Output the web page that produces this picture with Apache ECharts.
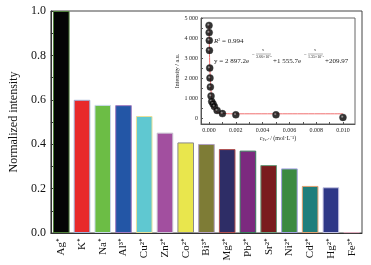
<!DOCTYPE html>
<html>
<head>
<meta charset="utf-8" />
<title>Normalized intensity</title>
<script src="https://cdn.jsdelivr.net/npm/echarts@6/dist/echarts.min.js"></script>
<style>
  body { margin: 0; background: #fff; }
  #main { width: 371px; height: 265px; }
</style>
</head>
<body>
<div id="main"></div>
<script type="text/javascript">
// ions and their normalized intensity
var ions = ['Ag⁺', 'K⁺', 'Na⁺', 'Al³⁺', 'Cu²⁺', 'Zn²⁺', 'Co²⁺', 'Bi³⁺', 'Mg²⁺', 'Pb²⁺', 'Sr²⁺', 'Ni²⁺', 'Cd²⁺', 'Hg²⁺', 'Fe³⁺'];
var intensity = [1.0, 0.600, 0.577, 0.576, 0.527, 0.452, 0.408, 0.401, 0.378, 0.371, 0.306, 0.291, 0.212, 0.206, 0.004];
var barColors = ['#050505', '#e8292b', '#6cbd45', '#2356a6', '#5fc8d1', '#a24f9f', '#e9e64d', '#7e7c36', '#2e2d66', '#7c2a7f', '#7a1c1e', '#3b8a42', '#1f7e7c', '#2d3787', '#f4d8e0'];
var barBorders = ['#4f7f3a', '#9fb2d8', '#c8d8e8', '#a07cc0', '#e8e09a', '#c8c0d0', '#8a8a8a', '#b0a0c0', '#b05050', '#3a7a5a', '#6a9a7a', '#a0a0e0', '#e0a070', '#c0c0e0', '#e0b0c0'];

// inset: Fe3+ concentration (mol/L) vs intensity (a.u.)
var conc = [0, 0.00001, 0.00002, 0.00003, 0.00005, 0.00007, 0.0001, 0.00015, 0.0002, 0.0003, 0.0004, 0.0006, 0.001, 0.002, 0.005, 0.010];
var counts = [4630, 4270, 3880, 3380, 2500, 2000, 1550, 1100, 830, 710, 580, 380, 220, 160, 160, 30];
// fitted curve
var fitX = [0, 0.00005, 0.0001, 0.00015, 0.0002, 0.0003, 0.0004, 0.0005, 0.0006, 0.0008, 0.001, 0.0015, 0.002, 0.005, 0.010];
var fitY = [4660, 2700, 1900, 1350, 1000, 640, 450, 350, 295, 245, 225, 212, 210, 210, 210];

var serif = 'Liberation Serif';
var myChart = echarts.init(document.getElementById('main'), null, { renderer: 'canvas' });

var option = {
    backgroundColor: '#fff',
    animation: false,
    textStyle: { fontFamily: serif, color: '#111' },
    grid: [
        { left: 45, right: 9, top: 11, bottom: 32, show: true, borderColor: '#444', borderWidth: 1 },
        { left: 201, right: 16, top: 18, bottom: 141, show: true, borderColor: '#666', borderWidth: 1, backgroundColor: '#fff' }
    ],
    xAxis: [
        {
            type: 'category', gridIndex: 0, data: ions,
            axisLine: { lineStyle: { color: '#333' } },
            axisTick: { inside: true, alignWithLabel: true, length: 3, lineStyle: { color: '#000' } },
            axisLabel: { rotate: 90, fontSize: 11, color: '#111', margin: 5, fontFamily: serif }
        },
        {
            type: 'value', gridIndex: 1, min: -0.0006, max: 0.0109,
            splitLine: { show: false },
            axisLine: { onZero: false, lineStyle: { color: '#555' } },
            axisTick: { inside: true, length: 2, customValues: [0, 0.001, 0.002, 0.003, 0.004, 0.005, 0.006, 0.007, 0.008, 0.009, 0.010], lineStyle: { color: '#555' } },
            axisLabel: {
                fontSize: 6, color: '#222', margin: 3, fontFamily: serif,
                customValues: [0, 0.002, 0.004, 0.006, 0.008, 0.010],
                formatter: function (v) { return v.toFixed(3); }
            },
            name: '{i|c}{s|Fe³⁺} / (mol·L⁻¹)', nameLocation: 'middle', nameGap: 11,
            nameTextStyle: {
                fontSize: 6, color: '#222', fontFamily: serif,
                rich: {
                    i: { fontSize: 6, fontStyle: 'italic', fontFamily: serif },
                    s: { fontSize: 4, verticalAlign: 'bottom', fontFamily: serif, padding: [3, 0, 0, 0] }
                }
            }
        }
    ],
    yAxis: [
        {
            type: 'value', gridIndex: 0, min: 0, max: 1, interval: 0.2,
            splitLine: { show: false },
            axisLine: { show: true, lineStyle: { color: '#333' } },
            axisTick: { show: true, inside: true, length: 3, lineStyle: { color: '#333' } },
            minorTick: { show: true, splitNumber: 2, length: 3, lineStyle: { color: '#333' } },
            axisLabel: { fontSize: 12, color: '#111', margin: 5, fontFamily: serif, formatter: function (v) { return v.toFixed(1); } },
            name: 'Normalized intensity', nameLocation: 'middle', nameGap: 28,
            nameTextStyle: { fontSize: 12, color: '#111', fontFamily: serif }
        },
        {
            type: 'value', gridIndex: 1, min: -300, max: 5000,
            splitLine: { show: false },
            axisLine: { show: true, onZero: false, lineStyle: { color: '#555' } },
            axisTick: { show: true, inside: true, length: 2, customValues: [0, 500, 1000, 1500, 2000, 2500, 3000, 3500, 4000, 4500, 5000], lineStyle: { color: '#555' } },
            axisLabel: {
                fontSize: 6, color: '#222', margin: 3, fontFamily: serif,
                customValues: [0, 1000, 2000, 3000, 4000, 5000],
                formatter: function (v) { return v >= 1000 ? Math.floor(v / 1000) + ' 000' : String(v); }
            },
            name: 'Intensity / a.u.', nameLocation: 'middle', nameGap: 19,
            nameTextStyle: { fontSize: 6, color: '#222', fontFamily: serif }
        }
    ],
    series: [
        {
            type: 'bar', xAxisIndex: 0, yAxisIndex: 0, barWidth: '80%',
            data: intensity.map(function (v, i) {
                return { value: v, itemStyle: { color: barColors[i], borderColor: barBorders[i], borderWidth: 1 } };
            })
        },
        {
            type: 'line', xAxisIndex: 1, yAxisIndex: 1, showSymbol: false, smooth: 0.2,
            lineStyle: { color: '#f07070', width: 1 },
            data: fitX.map(function (x, i) { return [x, fitY[i]]; }),
            z: 2
        },
        {
            type: 'scatter', xAxisIndex: 1, yAxisIndex: 1, symbolSize: 7,
            itemStyle: {
                color: { type: 'radial', x: 0.4, y: 0.4, r: 0.6, colorStops: [{ offset: 0, color: '#9a9a9a' }, { offset: 0.35, color: '#000' }, { offset: 1, color: '#000' }] },
                borderColor: '#333', borderWidth: 0.5
            },
            data: conc.map(function (x, i) { return [x, counts[i]]; }),
            z: 3
        }
    ],
    graphic: [
        {
            type: 'text', left: 214, top: 38, z: 10,
            style: {
                text: '{i|R}{s|2} = 0.994', fill: '#222', font: '7px ' + serif,
                rich: { i: { fontStyle: 'italic', fontSize: 7, fontFamily: serif }, s: { fontSize: 4, verticalAlign: 'top', fontFamily: serif } }
            }
        },
        { type: 'text', left: 214, top: 58, z: 10, style: { text: 'y = 2 897.2e', fill: '#222', font: '7px ' + serif } },
        { type: 'text', left: 252, top: 52, z: 10, style: { text: '−', fill: '#222', font: '5px ' + serif } },
        { type: 'text', left: 262, top: 48, z: 10, style: { text: 'x', fill: '#222', font: '4px ' + serif } },
        { type: 'line', z: 10, shape: { x1: 256, y1: 54, x2: 271, y2: 54 }, style: { stroke: '#444', lineWidth: 0.4 } },
        { type: 'text', left: 256, top: 55, z: 10, style: { text: '3.66×10⁻⁵', fill: '#222', font: '4px ' + serif } },
        { type: 'text', left: 273, top: 58, z: 10, style: { text: '+1 555.7e', fill: '#222', font: '7px ' + serif } },
        { type: 'text', left: 304, top: 52, z: 10, style: { text: '−', fill: '#222', font: '5px ' + serif } },
        { type: 'text', left: 314, top: 48, z: 10, style: { text: 'x', fill: '#222', font: '4px ' + serif } },
        { type: 'line', z: 10, shape: { x1: 308, y1: 54, x2: 323, y2: 54 }, style: { stroke: '#444', lineWidth: 0.4 } },
        { type: 'text', left: 308, top: 55, z: 10, style: { text: '1.35×10⁻⁴', fill: '#222', font: '4px ' + serif } },
        { type: 'text', left: 325, top: 58, z: 10, style: { text: '+209.97', fill: '#222', font: '7px ' + serif } }
    ]
};
myChart.setOption(option);
</script>
</body>
</html>
